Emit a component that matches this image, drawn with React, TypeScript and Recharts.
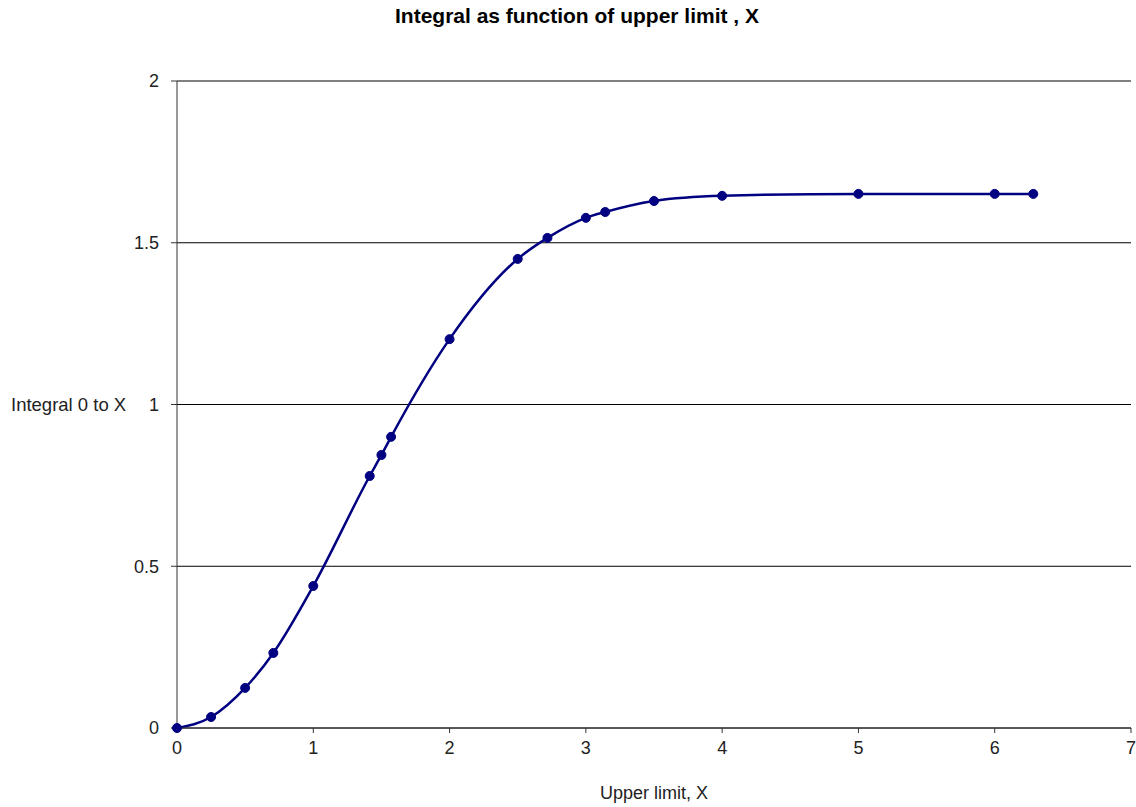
import React from "react";
import { LineChart, Line, XAxis, YAxis, CartesianGrid, Label } from "recharts";

const upperLimits = [0, 0.25, 0.5, 0.707, 1, 1.414, 1.5, 1.571, 2, 2.5, 2.718, 3, 3.142, 3.5, 4, 5, 6, 6.283];
const integralValues = [0, 0.034, 0.124, 0.232, 0.439, 0.779, 0.844, 0.9, 1.202, 1.45, 1.515, 1.577, 1.595, 1.629, 1.645, 1.651, 1.651, 1.651];
const xTicks = [0, 1, 2, 3, 4, 5, 6, 7];
const yTicks = [0, 0.5, 1, 1.5, 2];

const data = upperLimits.map((x, i) => ({ x, y: integralValues[i] }));

const NAVY = "#000080";
const FONT = "Arial, 'Liberation Sans', sans-serif";

export default function App() {
  return (
    <div style={{ position: "absolute", left: 0, top: 0, width: 1136, height: 807, background: "#fff", fontFamily: FONT }}>
      <div
        style={{
          position: "absolute",
          top: 4,
          left: 577,
          transform: "translateX(-50%)",
          fontSize: 21,
          fontWeight: "bold",
          whiteSpace: "nowrap",
          color: "#000",
        }}
      >
        Integral as function of upper limit , X
      </div>
      <LineChart width={1136} height={807} data={data} margin={{ top: 81, right: 5, bottom: 0, left: 0 }}>
        <CartesianGrid vertical={false} stroke="#000" strokeWidth={1} />
        <XAxis
          dataKey="x"
          type="number"
          domain={[0, 7]}
          ticks={xTicks}
          height={79}
          axisLine={{ stroke: "#333" }}
          tickLine={{ stroke: "#333" }}
          tickSize={5}
          tickMargin={8}
          tick={{ fontSize: 18, fill: "#222", fontFamily: FONT }}
        >
          <Label value="Upper limit, X" position="insideBottom" offset={8} style={{ fontSize: 18, fill: "#222", fontFamily: FONT }} />
        </XAxis>
        <YAxis
          type="number"
          domain={[0, 2]}
          ticks={yTicks}
          width={177}
          axisLine={{ stroke: "#333" }}
          tickLine={{ stroke: "#333" }}
          tickSize={6}
          tickMargin={12}
          tick={{ fontSize: 18, fill: "#222", fontFamily: FONT }}
        >
          <Label value="Integral 0 to X" position="insideLeft" offset={11} style={{ fontSize: 18.5, fill: "#222", fontFamily: FONT, textAnchor: "start" }} />
        </YAxis>
        <Line
          type="monotone"
          dataKey="y"
          stroke={NAVY}
          strokeWidth={2.5}
          dot={{ r: 4.5, fill: NAVY, stroke: NAVY, strokeWidth: 1 }}
          isAnimationActive={false}
        />
      </LineChart>
    </div>
  );
}
